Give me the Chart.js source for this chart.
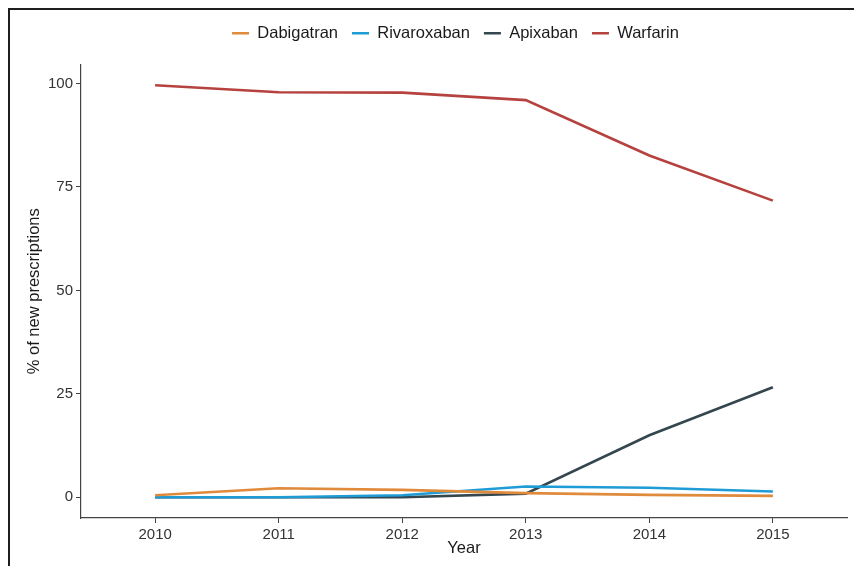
<!DOCTYPE html>
<html>
<head>
<meta charset="utf-8">
<script src="https://cdn.jsdelivr.net/npm/chart.js@4/dist/chart.umd.min.js"></script>
<style>
  html, body { margin: 0; padding: 0; background: #fff; overflow: hidden; }
  #wrap { position: relative; width: 854px; height: 566px; }
  #frame { position: absolute; left: 8px; top: 8px; width: 900px; height: 600px; border: 2px solid #1e1e1e; box-sizing: border-box; pointer-events: none; }
  canvas { position: absolute; left: 0; top: 0; }
</style>
</head>
<body>
<div id="wrap">
  <canvas id="c" width="854" height="566"></canvas>
  <div id="frame"></div>
</div>
<script>
const years = [2010, 2011, 2012, 2013, 2014, 2015];
const dabigatran = [0.5, 2.2, 1.8, 1.0, 0.6, 0.35];
const rivaroxaban = [0.0, 0.0, 0.5, 2.6, 2.3, 1.4];
const apixaban = [0.0, 0.0, 0.0, 0.9, 15.0, 26.6];
const warfarin = [99.6, 97.9, 97.8, 96.0, 82.6, 71.7];
const yTicks = [0, 25, 50, 75, 100];
const seriesNames = ["Dabigatran", "Rivaroxaban", "Apixaban", "Warfarin"];
const seriesColors = ["#E08A3C", "#1F9CD6", "#34474F", "#B5423F"];

const seriesValues = [dabigatran, rivaroxaban, apixaban, warfarin];
const datasets = seriesNames.map((name, i) => ({
  label: name,
  data: years.map((yr, j) => ({ x: yr, y: seriesValues[i][j] })),
  borderColor: seriesColors[i],
  backgroundColor: seriesColors[i],
  borderWidth: 2.6,
  pointRadius: 0,
  tension: 0,
  fill: false
}));

const FONT = "'Liberation Sans', Arial, sans-serif";

const legendTweak = {
  id: 'legendTweak',
  beforeLayout(chart) {
    const lg = chart.legend;
    if (lg && !lg._patched) {
      const f = lg.fit;
      lg.fit = function () { f.call(this); this.height += 13; };
      lg._patched = true;
    }
  },
  afterLayout(chart) {
    const lg = chart.legend;
    if (lg) { lg.left += 32; lg.right += 32; }
  }
};

new Chart(document.getElementById('c'), {
  type: 'line',
  data: { datasets },
  plugins: [legendTweak],
  options: {
    responsive: false,
    animation: false,
    layout: { padding: { left: 0, right: 7, top: 11, bottom: 0 } },
    plugins: {
      tooltip: { enabled: false },
      legend: {
        display: true,
        position: 'top',
        labels: {
          boxWidth: 17,
          boxHeight: 2.6,
          padding: 14,
          color: '#1a1a1a',
          font: { family: FONT, size: 16.5 },
          generateLabels: chart => Chart.defaults.plugins.legend.labels.generateLabels(chart).map(it => Object.assign(it, { lineWidth: 0 }))
        }
      }
    },
    scales: {
      x: {
        type: 'linear',
        min: 2009.4,
        max: 2015.6,
        afterBuildTicks: s => { s.ticks = years.map(v => ({ value: v })); },
        afterFit: s => { s.height = 48; },
        ticks: {
          color: '#333',
          font: { family: FONT, size: 15 },
          padding: 3,
          maxRotation: 0,
          callback: v => String(v)
        },
        grid: { drawOnChartArea: false, drawTicks: true, tickLength: 5, color: '#444', tickWidth: 1 },
        border: { display: true, color: '#444', width: 1.2 },
        title: { display: true, text: 'Year', color: '#1a1a1a', font: { family: FONT, size: 16.5 }, padding: { top: 0, bottom: 8 } }
      },
      y: {
        type: 'linear',
        min: -5,
        max: 104.6,
        afterBuildTicks: s => { s.ticks = yTicks.map(v => ({ value: v })); },
        afterFit: s => { s.width = 81; },
        ticks: {
          color: '#333',
          font: { family: FONT, size: 15 },
          padding: 3,
          callback: v => String(v)
        },
        grid: { drawOnChartArea: false, drawTicks: true, tickLength: 5, color: '#444', tickWidth: 1 },
        border: { display: true, color: '#444', width: 1.2 },
        title: { display: true, text: '% of new prescriptions', color: '#1a1a1a', font: { family: FONT, size: 16.5 }, padding: { top: 25, bottom: 0 } }
      }
    }
  }
});
</script>
</body>
</html>
